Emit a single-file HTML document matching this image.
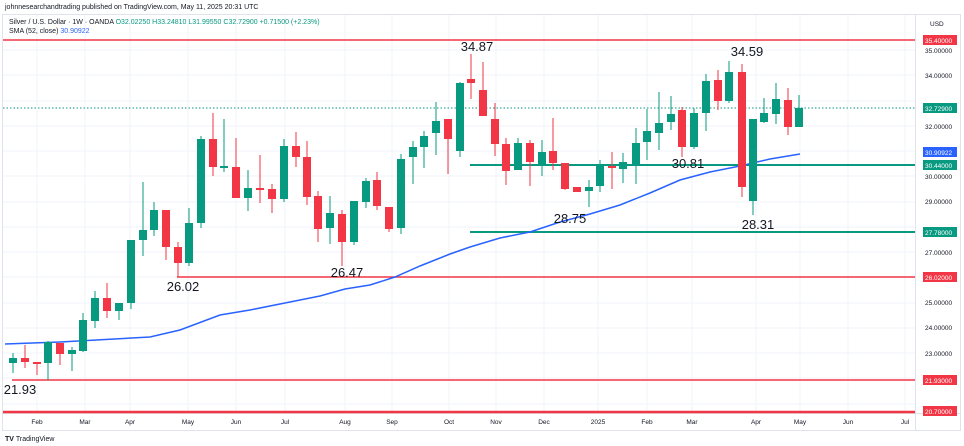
<!DOCTYPE html>
<html><head><meta charset="utf-8"><style>
body{margin:0;background:#fff;}
svg{display:block;font-family:"Liberation Sans",sans-serif;}
</style></head><body>
<svg width="964" height="446" viewBox="0 0 964 446" xmlns="http://www.w3.org/2000/svg">
<rect width="964" height="446" fill="#fff"/>
<rect x="2.5" y="14.5" width="958" height="416" fill="none" stroke="#e0e3eb"/>
<line x1="915.5" y1="14" x2="915.5" y2="430" stroke="#e0e3eb"/>
<line x1="2" y1="413.5" x2="960" y2="413.5" stroke="#e0e3eb"/>
<g stroke="#f0f3fa">
<line x1="37" y1="15" x2="37" y2="413"/><line x1="85" y1="15" x2="85" y2="413"/><line x1="130" y1="15" x2="130" y2="413"/><line x1="188" y1="15" x2="188" y2="413"/><line x1="236" y1="15" x2="236" y2="413"/><line x1="285" y1="15" x2="285" y2="413"/><line x1="345" y1="15" x2="345" y2="413"/><line x1="392" y1="15" x2="392" y2="413"/><line x1="449" y1="15" x2="449" y2="413"/><line x1="496" y1="15" x2="496" y2="413"/><line x1="544" y1="15" x2="544" y2="413"/><line x1="598" y1="15" x2="598" y2="413"/><line x1="647" y1="15" x2="647" y2="413"/><line x1="692" y1="15" x2="692" y2="413"/><line x1="756" y1="15" x2="756" y2="413"/><line x1="800" y1="15" x2="800" y2="413"/><line x1="848" y1="15" x2="848" y2="413"/><line x1="905" y1="15" x2="905" y2="413"/>
<line x1="3" y1="50" x2="915" y2="50"/><line x1="3" y1="75" x2="915" y2="75"/><line x1="3" y1="101" x2="915" y2="101"/><line x1="3" y1="126" x2="915" y2="126"/><line x1="3" y1="151" x2="915" y2="151"/><line x1="3" y1="176" x2="915" y2="176"/><line x1="3" y1="202" x2="915" y2="202"/><line x1="3" y1="227" x2="915" y2="227"/><line x1="3" y1="252" x2="915" y2="252"/><line x1="3" y1="277" x2="915" y2="277"/><line x1="3" y1="303" x2="915" y2="303"/><line x1="3" y1="328" x2="915" y2="328"/><line x1="3" y1="353" x2="915" y2="353"/><line x1="3" y1="378" x2="915" y2="378"/><line x1="3" y1="404" x2="915" y2="404"/>
</g>
<!-- levels -->
<line x1="3" y1="40" x2="915" y2="40" stroke="#f23645" stroke-width="1.5"/>
<line x1="3" y1="108" x2="915" y2="108" stroke="#089981" stroke-dasharray="1.5,2"/>
<line x1="470" y1="165" x2="915" y2="165" stroke="#089981" stroke-width="2"/>
<line x1="470" y1="232" x2="915" y2="232" stroke="#089981" stroke-width="2"/>
<line x1="177" y1="277" x2="915" y2="277" stroke="#f23645" stroke-width="1.5"/>
<line x1="12" y1="380" x2="915" y2="380" stroke="#f23645" stroke-width="1.5"/>
<line x1="3" y1="412" x2="915" y2="412" stroke="#f23645" stroke-width="2.5"/>
<!-- SMA -->
<polyline fill="none" stroke="#2962ff" stroke-width="1.5" points="5,344 60,342 150,337 180,330 220,315 250,310 290,302 320,296 345,289 370,285 395,277 420,266 450,254 470,247 500,238 530,232 560,222 590,214 620,205 650,193 680,180 710,172 740,166 770,159 800,154"/>
<g id="c"></g>
<text x="477" y="51" font-size="13" text-anchor="middle" fill="#131722">34.87</text>
<text x="747" y="56" font-size="13" text-anchor="middle" fill="#131722">34.59</text>
<text x="688" y="168" font-size="13" text-anchor="middle" fill="#131722">30.81</text>
<text x="570" y="223" font-size="13" text-anchor="middle" fill="#131722">28.75</text>
<text x="758" y="229" font-size="13" text-anchor="middle" fill="#131722">28.31</text>
<text x="347" y="277" font-size="13" text-anchor="middle" fill="#131722">26.47</text>
<text x="183" y="291" font-size="13" text-anchor="middle" fill="#131722">26.02</text>
<text x="20" y="394" font-size="13" text-anchor="middle" fill="#131722">21.93</text>
<!-- header -->
<text x="5" y="9" font-size="7" fill="#131722">johnnesearchandtrading published on TradingView.com, May 11, 2025 20:31 UTC</text>
<text x="9" y="24" font-size="7" fill="#131722">Silver / U.S. Dollar · 1W · OANDA <tspan fill="#089981">O32.02250 H33.24810 L31.99550 C32.72900 +0.71500 (+2.23%)</tspan></text>
<text x="9" y="33" font-size="7" fill="#131722">SMA (52, close) <tspan fill="#2962ff">30.90922</tspan></text>
<!-- axis -->
<g font-size="6.5" fill="#131722">
<text x="930" y="26">USD</text>
<text x="925" y="53">35.00000</text><text x="925" y="78">34.00000</text><text x="925" y="129">32.00000</text><text x="925" y="179">30.00000</text><text x="925" y="204">29.00000</text><text x="925" y="255">27.00000</text><text x="925" y="305">25.00000</text><text x="925" y="330">24.00000</text><text x="925" y="356">23.00000</text>
</g>
<g font-size="6.5" fill="#fff">
<rect x="923" y="35" width="34" height="10" fill="#f23645"/><text x="925" y="43">35.40000</text>
<rect x="923" y="103" width="34" height="10" fill="#089981"/><text x="925" y="111">32.72900</text>
<rect x="923" y="147" width="34" height="10" fill="#2962ff"/><text x="925" y="155">30.90922</text>
<rect x="923" y="160" width="34" height="10" fill="#089981"/><text x="925" y="168">30.44000</text>
<rect x="923" y="227" width="34" height="10" fill="#089981"/><text x="925" y="235">27.78000</text>
<rect x="923" y="272" width="34" height="10" fill="#f23645"/><text x="925" y="280">26.02000</text>
<rect x="923" y="375" width="34" height="10" fill="#f23645"/><text x="925" y="383">21.93000</text>
<rect x="923" y="406" width="34" height="10" fill="#f23645"/><text x="925" y="414">20.70000</text>
</g>
<g font-size="6.5" fill="#131722" text-anchor="middle">
<text x="37" y="424">Feb</text><text x="85" y="424">Mar</text><text x="130" y="424">Apr</text><text x="188" y="424">May</text><text x="236" y="424">Jun</text><text x="285" y="424">Jul</text><text x="345" y="424">Aug</text><text x="392" y="424">Sep</text><text x="449" y="424">Oct</text><text x="496" y="424">Nov</text><text x="544" y="424">Dec</text><text x="598" y="424">2025</text><text x="647" y="424">Feb</text><text x="692" y="424">Mar</text><text x="756" y="424">Apr</text><text x="800" y="424">May</text><text x="848" y="424">Jun</text><text x="905" y="424">Jul</text>
</g>
<text x="5" y="441" font-size="7" font-weight="bold" fill="#131722">TV <tspan font-weight="normal">TradingView</tspan></text>
<g>
<!-- candles: x,o,c,h,l -->
<script type="text/javascript"><![CDATA[
var d=[[13,363,358,353,373],[25,358,362,345,368],[37,362,364,362,375],[48,363,342,341,380],[60,343,354,343,365],[72,354,350,347,371],[83,351,320,313,352],[95,321,298,291,328],[107,298,311,283,318],[119,311,303,303,320],[131,303,240,240,309],[143,240,230,182,256],[154,230,210,202,236],[166,210,247,210,260],[178,247,263,242,277],[189,263,223,208,266],[201,223,139,136,228],[213,139,167,113,176],[224,168,166,119,172],[236,167,198,138,198],[248,198,188,170,211],[260,188,189,155,203],[272,189,199,184,213],[284,199,146,139,202],[296,146,157,132,167],[307,157,197,141,205],[318,196,229,191,242],[330,228,213,196,244],[342,214,242,210,266],[354,242,201,201,245],[366,202,181,178,208],[377,180,206,172,210],[389,207,229,207,232],[401,228,159,154,234],[413,157,147,141,184],[424,147,136,131,168],[436,133,121,102,155],[448,119,139,119,174],[460,151,83,82,157],[471,79,83,54,99],[483,90,116,62,116],[495,119,144,103,156],[506,144,171,138,185],[518,170,143,138,170],[530,143,162,140,186],[542,164,152,140,176],[553,151,163,118,170],[565,163,189,163,190],[577,187,192,187,192],[589,191,187,180,207],[600,186,166,160,192],[612,166,168,152,189],[623,169,162,153,183],[636,164,143,128,184],[647,142,131,109,160],[659,133,123,92,150],[671,122,114,96,130],[682,110,147,107,157],[694,147,113,108,149],[706,113,81,74,131],[718,80,101,70,110],[729,101,72,61,103],[742,72,187,64,197],[753,201,119,119,215],[764,122,113,98,123],[776,114,99,83,124],[788,100,127,88,135],[799,127,108,95,127]];
var g=document.getElementById('c'),s='';
d.forEach(function(a){var up=a[2]<a[1],col=up?'#089981':'#f23645',t=Math.min(a[1],a[2]),h=Math.max(2,Math.abs(a[1]-a[2]));
s+='<line x1="'+a[0]+'" y1="'+a[3]+'" x2="'+a[0]+'" y2="'+a[4]+'" stroke="'+col+'" stroke-width="1"/>';
s+='<rect x="'+(a[0]-4)+'" y="'+t+'" width="8" height="'+h+'" fill="'+col+'"/>';});
g.innerHTML=s;
]]></script>
</g>
</svg>
</body></html>
